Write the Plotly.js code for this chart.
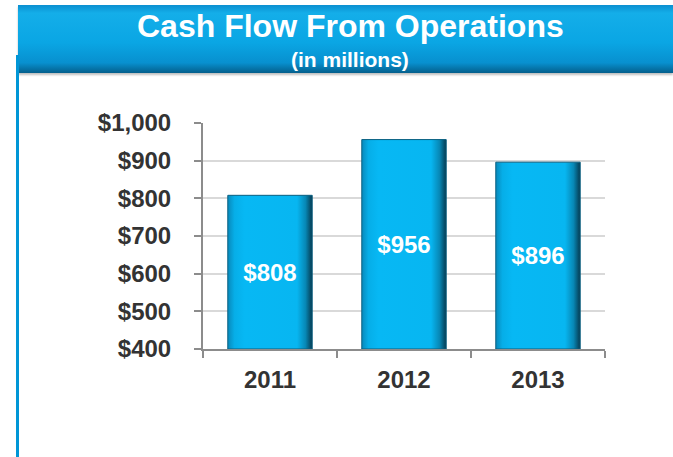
<!DOCTYPE html>
<html>
<head>
<meta charset="utf-8">
<script src="https://cdn.plot.ly/plotly-3.0.1.min.js"></script>
<style>
  html, body { margin: 0; padding: 0; background: #fff; }
  #wrap { position: relative; width: 673px; height: 457px; overflow: hidden; }
  #banner { position: absolute; left: 18px; top: 5px; width: 655px; height: 68px;
    background: linear-gradient(to bottom, #0b8fd0 0%, #14aee9 12%, #0aa6e4 55%, #0890cf 85%, #045f8c 100%);
    box-shadow: 0 2px 2px rgba(0,0,0,0.25); }
  #vline { position: absolute; left: 16px; top: 55px; width: 3px; height: 402px; background: #0096d6; }
  #chart { position: absolute; left: 0; top: 0; width: 673px; height: 457px; }
</style>
</head>
<body>
<div id="wrap">
  <div id="banner"></div>
  <div id="vline"></div>
  <div id="chart"></div>
</div>
<script>
const years = ["2011", "2012", "2013"];
const cashFlow = [808, 956, 896];
const valueLabels = ["$808", "$956", "$896"];
const axisFloor = 400;

const FONT = "Liberation Sans, Arial, sans-serif";

const trace = {
  type: "bar",
  x: years,
  y: cashFlow.map(v => v - axisFloor),
  base: axisFloor,
  text: valueLabels,
  textposition: "inside",
  insidetextanchor: "middle",
  textangle: 0,
  textfont: { family: FONT, size: 24, color: "#ffffff", weight: "bold" },
  marker: { color: "#07b6f1", line: { color: "#0a5f80", width: 1 } },
  hoverinfo: "skip"
};

const layout = {
  width: 673, height: 457,
  margin: { l: 203, r: 68, t: 123, b: 108 },
  paper_bgcolor: "rgba(0,0,0,0)",
  plot_bgcolor: "rgba(0,0,0,0)",
  bargap: 0.37,
  showlegend: false,
  font: { family: FONT, color: "#333333" },
  annotations: [
    { text: "<b>Cash Flow From Operations</b>", xref: "paper", yref: "paper",
      x: 0.3657, y: 1.43, xanchor: "center", yanchor: "middle", showarrow: false,
      font: { family: FONT, size: 32, color: "#ffffff" } },
    { text: "<b>(in millions)</b>", xref: "paper", yref: "paper",
      x: 0.3657, y: 1.28, xanchor: "center", yanchor: "middle", showarrow: false,
      font: { family: FONT, size: 21, color: "#ffffff" } }
  ],
  xaxis: {
    type: "category",
    showline: true, linecolor: "#8c8c8c", linewidth: 2,
    ticks: "outside", tickson: "boundaries", ticklen: 7, tickcolor: "#8c8c8c", tickwidth: 2,
    tickfont: { size: 24, color: "#333333", weight: "bold" },
    ticklabelstandoff: 8,
    showgrid: false, zeroline: false
  },
  yaxis: {
    range: [400, 1000],
    dtick: 100,
    tickprefix: "$",
    tickformat: ",d",
    showline: true, linecolor: "#8c8c8c", linewidth: 2,
    ticks: "outside", ticklen: 7, tickcolor: "#8c8c8c", tickwidth: 2,
    tickfont: { size: 24, color: "#333333", weight: "bold" },
    ticklabelstandoff: 18,
    showgrid: true, gridcolor: "#d9d9d9", gridwidth: 2,
    zeroline: false, fixedrange: true
  }
};

Plotly.newPlot("chart", [trace], layout, { displayModeBar: false, staticPlot: true }).then(gd => {
  const svg = gd.querySelector("svg.main-svg");
  const ns = "http://www.w3.org/2000/svg";
  let defs = svg.querySelector("defs");
  if (!defs) { defs = document.createElementNS(ns, "defs"); svg.insertBefore(defs, svg.firstChild); }
  const g = document.createElementNS(ns, "linearGradient");
  g.setAttribute("id", "barGrad");
  g.setAttribute("x1", "0"); g.setAttribute("y1", "0");
  g.setAttribute("x2", "1"); g.setAttribute("y2", "0");
  [["0", "#0889bb"], ["0.08", "#06aee8"], ["0.2", "#07b8f4"], ["0.82", "#07b6f1"], ["0.92", "#0788b6"], ["1", "#053a50"]]
    .forEach(([o, c]) => {
      const s = document.createElementNS(ns, "stop");
      s.setAttribute("offset", o); s.setAttribute("stop-color", c);
      g.appendChild(s);
    });
  defs.appendChild(g);
  gd.querySelectorAll(".trace.bars .point path").forEach(p => {
    p.style.fill = "url(#barGrad)";
  });
});
</script>
</body>
</html>
